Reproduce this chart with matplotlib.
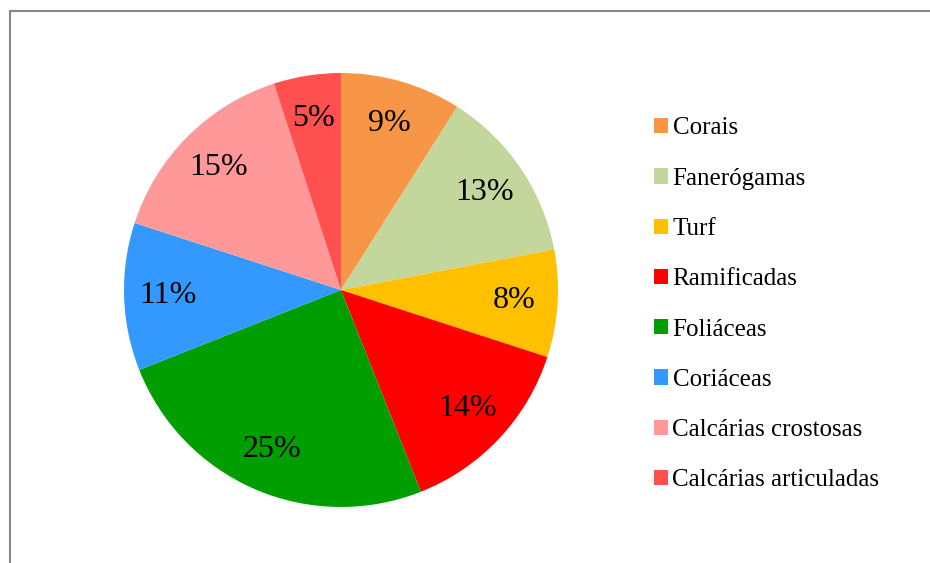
import matplotlib
matplotlib.use("Agg")
import matplotlib.pyplot as plt
from matplotlib.patches import Rectangle

categorias = ['Corais', 'Fanerógamas', 'Turf', 'Ramificadas', 'Foliáceas',
              'Coriáceas', 'Calcárias crostosas', 'Calcárias articuladas']
valores = [9, 13, 8, 14, 25, 11, 15, 5]
cores = ['#F79646', '#C3D69B', '#FFC000', '#FF0000', '#009E00',
         '#3399FF', '#FF9999', '#FF5050']

plt.rcParams['font.family'] = ['Liberation Serif', 'DejaVu Serif']

W, H = 930, 563
fig = plt.figure(figsize=(W / 100, H / 100), dpi=100)

# outer frame (only left/top visible in the reference)
fig.patches.append(Rectangle((10 / W, -0.05), 1.2, (H - 11) / H + 0.05,
                             transform=fig.transFigure, fill=False,
                             edgecolor='#888888', linewidth=1.5))

cx, cy, r = 341, 290, 217
ax = fig.add_axes([(cx - r) / W, (H - cy - r) / H, 2 * r / W, 2 * r / H])
wedges, texts, autotexts = ax.pie(valores, colors=cores, startangle=90,
                                  counterclock=False, radius=1,
                                  autopct='%1.0f%%', pctdistance=0.8,
                                  textprops={'fontsize': 23})
ax.set_xlim(-1, 1)
ax.set_ylim(-1, 1)
ax.set_aspect('equal')

leg = fig.legend(wedges, categorias, loc='upper left',
                 bbox_to_anchor=(641 / W, 1 - 105 / H),
                 frameon=False, fontsize=18, handlelength=0.56, handleheight=0.56,
                 handletextpad=0.2, labelspacing=1.13, borderpad=0)

fig.savefig('out.png', dpi=100)
